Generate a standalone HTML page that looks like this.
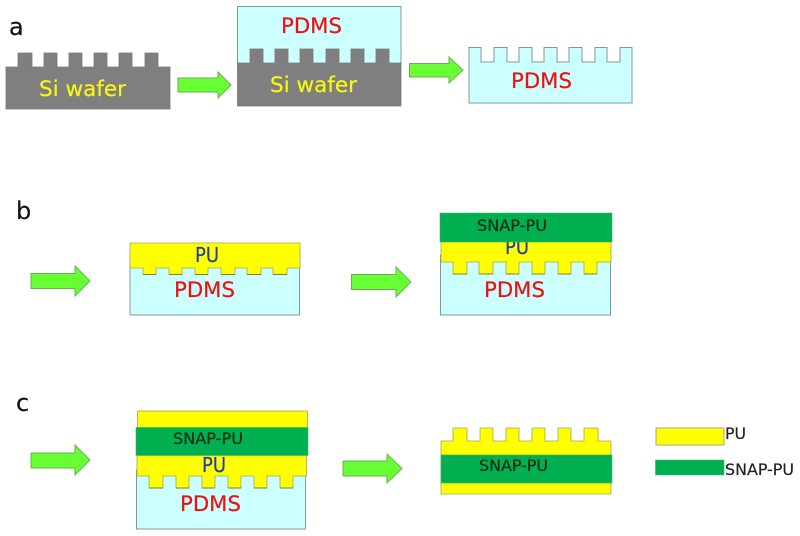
<!DOCTYPE html>
<html><head><meta charset="utf-8"><style>
html,body{margin:0;padding:0;background:#fff;width:800px;height:536px;overflow:hidden}
svg{display:block}
text{font-family:"DejaVu Sans","Liberation Sans",sans-serif;stroke-width:.2px}
.a{fill:#66ff33;stroke:#6fae55;stroke-width:1}
.g{fill:#7f7f7f;stroke:#777;stroke-width:.8}
.c{fill:#ccffff;stroke:#7f9a9a;stroke-width:1}
.y{fill:#ffff00;stroke:#a5a55a;stroke-width:.8}
.n{fill:#00b050;stroke:#3fb070;stroke-width:.6}
.t{fill:none;stroke:#6a6a30;stroke-width:.8}
.r{fill:#ee1111;stroke:#ee1111;font-size:21.5px}
.w{fill:#f8f810;stroke:#f8f810;font-size:21.5px}
.b{fill:#1f3fb0;stroke:#1f3fb0;font-size:20px}
.s{fill:#0a2a18;stroke:#0a2a18;font-size:16px}
.k{fill:#111;stroke:#111;font-size:24px}
.l{fill:#222;stroke:#222;font-size:16px}
</style></head><body>
<svg width="800" height="536" viewBox="0 0 800 536" xmlns="http://www.w3.org/2000/svg">
<!-- panel a -->
<text class="k" x="9" y="35">a</text>
<path class="g" d="M6 109V67H18V53H32V67H44V53H57V67H69V53H82V67H94V53H107V67H119V53H132V67H145V53H158V67H170V109Z"/>
<text class="w" x="39" y="96" textLength="87" lengthAdjust="spacingAndGlyphs">Si wafer</text>
<path class="a" d="M178 78H218V72L231 85L218 98V92H178Z"/>
<rect class="c" x="237.500" y="6.500" width="163.500" height="60"/>
<path class="g" d="M237.500 106V63H250V49H263V63H275V49H288V63H300V49H313V63H326V49H339V63H351V49H364V63H376V49H389V63H401V106Z"/>
<text class="r" x="281" y="33" textLength="61" lengthAdjust="spacingAndGlyphs">PDMS</text>
<text class="w" x="270" y="92" textLength="87" lengthAdjust="spacingAndGlyphs">Si wafer</text>
<path class="a" d="M409.500 63.500H449V57L463 70L449 83V77H409.500Z"/>
<path class="c" d="M469 103V47.500H481V62H494V47.500H507V62H519V47.500H532V62H544V47.500H557V62H569V47.500H582V62H595V47.500H607V62H620V47.500H632V103Z"/>
<text class="r" x="511" y="88" textLength="61" lengthAdjust="spacingAndGlyphs">PDMS</text>
<!-- panel b -->
<text class="k" x="16" y="219">b</text>
<path class="a" d="M31 273.500H75V266L90 281L75 296V288.500H31Z"/>
<rect class="c" x="130" y="262" width="169.500" height="53"/>
<path class="y" d="M130 268V243H300V268H287V274.500H273V268H261V274.500H247V268H235V274.500H221V268H208V274.500H195V268H182V274.500H169V268H156V274.500H143V268Z"/>
<path class="t" d="M143 274.500H156M169 274.500H182M195 274.500H208M221 274.500H235M247 274.500H261M273 274.500H287"/>
<text class="b" x="195" y="262" textLength="24" lengthAdjust="spacingAndGlyphs">PU</text>
<text class="r" x="174" y="297" textLength="61" lengthAdjust="spacingAndGlyphs">PDMS</text>
<path class="a" d="M351.500 274.500H396V267L411 282L396 297V289.500H351.500Z"/>
<rect class="c" x="440.500" y="255" width="170" height="60"/>
<path class="y" d="M441 262V240H611V262H597V274H584V262H571V274H558V262H545V274H532V262H519V274H506V262H493V274H479V262H467V274H453V262Z"/>
<path class="t" d="M453 274H467M479 274H493M506 274H519M532 274H545M558 274H571M584 274H597"/>
<text class="b" x="505" y="254" textLength="24" lengthAdjust="spacingAndGlyphs">PU</text>
<rect class="n" x="440" y="213" width="172" height="29"/>
<text class="s" x="477" y="231" textLength="70" lengthAdjust="spacingAndGlyphs">SNAP-PU</text>
<text class="r" x="484" y="297" textLength="61" lengthAdjust="spacingAndGlyphs">PDMS</text>
<!-- panel c -->
<text class="k" x="16" y="411">c</text>
<path class="a" d="M31 453H75V445L90 460L75 475V468H31Z"/>
<rect class="c" x="136.500" y="470" width="169" height="59"/>
<rect class="y" x="137.500" y="411" width="170" height="18"/>
<path class="y" d="M137 476V453H306.500V476H293V488H280V476H267V488H254V476H241V488H228V476H215V488H202V476H189V488H176V476H163V488H149V476Z"/>
<path class="t" d="M149 488H163M176 488H189M202 488H215M228 488H241M254 488H267M280 488H293"/>
<rect class="n" x="136" y="427.500" width="172" height="28"/>
<text class="s" x="173" y="444" textLength="70" lengthAdjust="spacingAndGlyphs">SNAP-PU</text>
<text class="b" x="202" y="472" textLength="24" lengthAdjust="spacingAndGlyphs">PU</text>
<text class="r" x="180" y="511" textLength="61" lengthAdjust="spacingAndGlyphs">PDMS</text>
<path class="a" d="M343 461H387V454L402 468.500L387 483V476H343Z"/>
<path class="y" d="M441 494V441H453V428H467V441H480V428H493V441H506V428H519V441H532V428H545V441H558V428H571V441H584V428H598V441H611V494Z"/>
<rect class="n" x="441" y="455" width="171" height="28"/>
<text class="s" x="479" y="471" textLength="69" lengthAdjust="spacingAndGlyphs">SNAP-PU</text>
<!-- legend -->
<rect x="656" y="428" width="68" height="17" fill="#ffff00" stroke="#a8a878" stroke-width="1"/>
<text class="l" x="725" y="439" textLength="21" lengthAdjust="spacingAndGlyphs">PU</text>
<rect class="n" x="655.500" y="460" width="68.500" height="15"/>
<text class="l" x="725" y="475" textLength="69" lengthAdjust="spacingAndGlyphs">SNAP-PU</text>
</svg>
</body></html>
